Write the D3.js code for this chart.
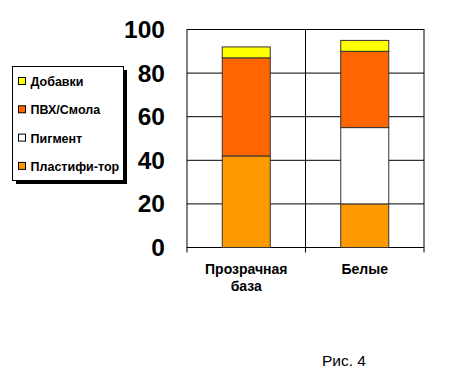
<!DOCTYPE html>
<html><head><meta charset="utf-8">
<script src="https://cdn.jsdelivr.net/npm/d3@7"></script>
<style>body{margin:0;background:#fff}svg{display:block}text{font-family:Arial,"Liberation Sans",sans-serif}</style>
</head><body>
<svg id="c" width="451" height="378"></svg>
<script>
const categories = [["Прозрачная","база"],["Белые"]];
const seriesNames = ["Пластифи-тор","Пигмент","ПВХ/Смола","Добавки"];
const plastifier = [42, 20];
const pigment = [0, 35];
const pvc = [45, 35];
const additives = [5, 5];
const yTicks = [0,20,40,60,80,100];
const colors = ["#FF9900","#FFFFFF","#FF6600","#FFFF00"];

const svg = d3.select("#c");
const L = 187, R = 424, T = 29.5, B = 247.5;
const x = d3.scaleBand().domain([0,1]).range([L,R]).paddingInner(0).paddingOuter(0);
const y = d3.scaleLinear().domain([0,100]).range([B,T]);

// grid
svg.append("g").selectAll("line").data(yTicks.filter(d=>d>0 && d<100)).join("line")
  .attr("x1",L).attr("x2",R).attr("y1",d=>y(d)).attr("y2",d=>y(d))
  .attr("stroke","#000").attr("stroke-width",1);
svg.append("line").attr("x1",x(1)).attr("x2",x(1)).attr("y1",T).attr("y2",B+5).attr("stroke","#000");
svg.append("rect").attr("x",L).attr("y",T).attr("width",R-L).attr("height",B-T)
  .attr("fill","none").attr("stroke","#000");
[L,R].forEach(v=>svg.append("line").attr("x1",v).attr("x2",v).attr("y1",B).attr("y2",B+5).attr("stroke","#000"));

const stackData = [0,1].map(i=>({i, s0:plastifier[i], s1:pigment[i], s2:pvc[i], s3:additives[i]}));
const stack = d3.stack().keys(["s0","s1","s2","s3"])(stackData);
const bw = 48;
stack.forEach((layer,k)=>{
  svg.append("g").selectAll("rect").data(layer.filter(d=>d[1]-d[0]>0)).join("rect")
    .attr("x",d=>x(d.data.i)+x.bandwidth()/2-bw/2)
    .attr("width",bw)
    .attr("y",d=>y(d[1]))
    .attr("height",d=>y(d[0])-y(d[1]))
    .attr("fill",colors[k]).attr("stroke","#333").attr("stroke-width",1);
});

// y labels
svg.append("g").selectAll("text").data(yTicks).join("text")
  .attr("x",165).attr("y",d=>y(d)+8.5).attr("text-anchor","end")
  .attr("font-size",24.5).attr("font-weight","bold").text(d=>d);

// x labels
categories.forEach((lines,i)=>{
  lines.forEach((t,j)=>{
    svg.append("text").attr("x",x(i)+x.bandwidth()/2).attr("y",274+j*16.5)
      .attr("text-anchor","middle").attr("font-size",14).attr("font-weight","bold").text(t);
  });
});

// legend
const lg = svg.append("g");
lg.append("rect").attr("x",16).attr("y",70).attr("width",111).attr("height",114).attr("fill","#000");
lg.append("rect").attr("x",12.5).attr("y",66.5).attr("width",111).attr("height",114).attr("fill","#fff").attr("stroke","#000");
const legItems = [3,2,1,0];
legItems.forEach((k,j)=>{
  const yy = 82 + j*28.3;
  lg.append("rect").attr("x",18.5).attr("y",yy-4.5).attr("width",7).attr("height",7)
    .attr("fill",colors[k]).attr("stroke","#000");
  lg.append("text").attr("x",30.5).attr("y",yy+4).attr("font-size",12.5).attr("font-weight","bold").text(seriesNames[k]);
});

svg.append("text").attr("x",322).attr("y",366).attr("font-size",15.5).text("Рис. 4");
</script>
</body></html>
